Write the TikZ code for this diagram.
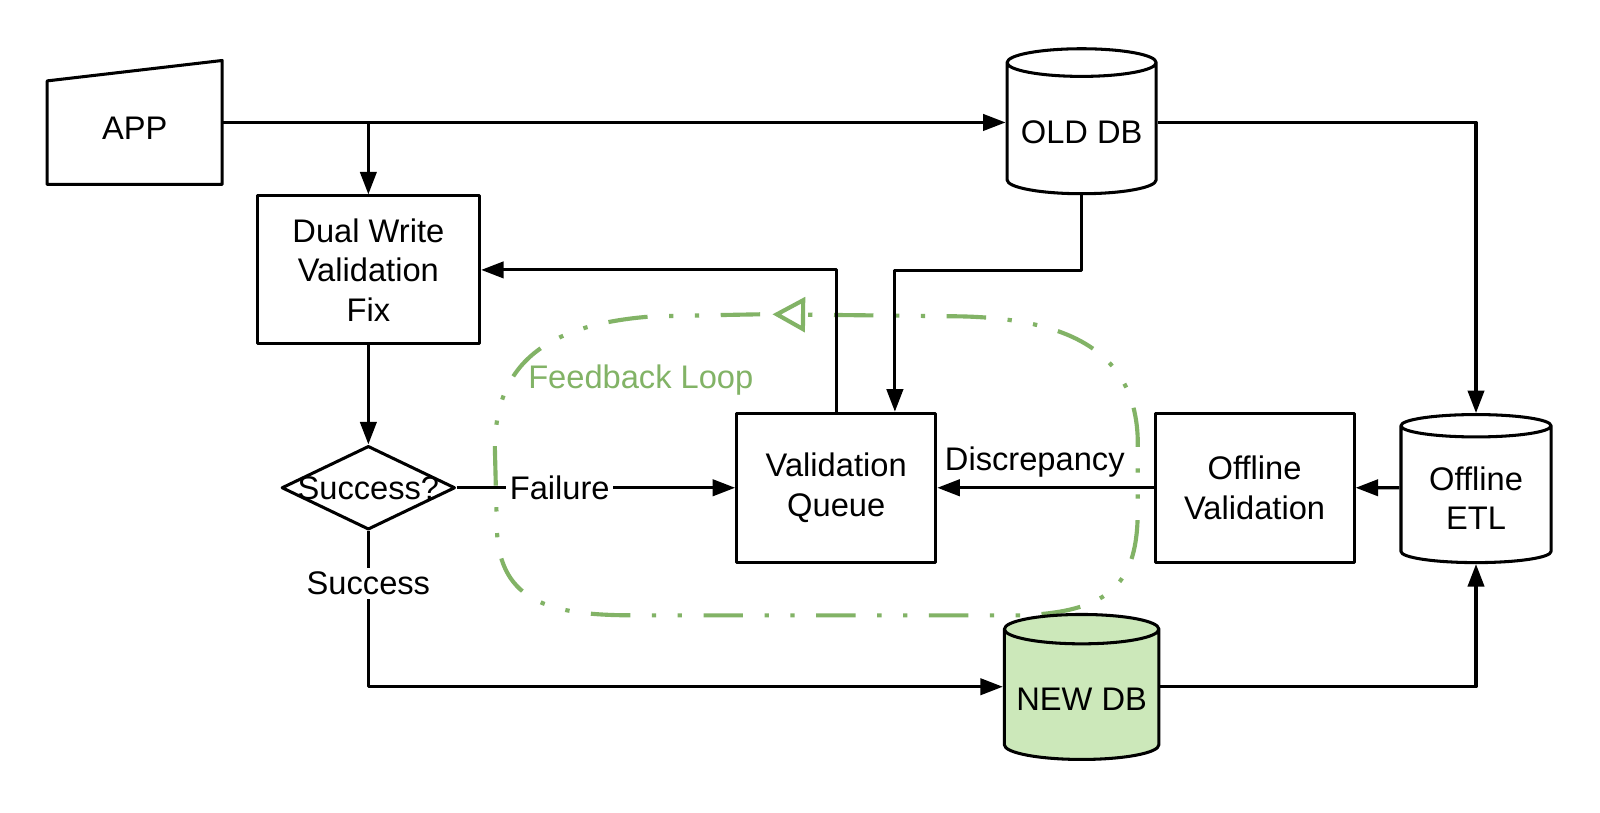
\documentclass[tikz,border=0pt]{standalone}
\usepackage{fontspec}
\setmainfont{Liberation Sans}
\usetikzlibrary{shapes.geometric,arrows.meta,calc}
\definecolor{loopgreen}{RGB}{130,179,102}
\definecolor{newdbfill}{RGB}{204,232,186}
\begin{document}
\begin{tikzpicture}[x=0.01cm,y=-0.01cm,>={Triangle[length=2.2mm,width=1.6mm]},line join=round,
	font=\fontsize{9.1}{11}\selectfont,
	box/.style={draw,line width=0.85pt,fill=white,align=center,minimum width=1.95cm,minimum height=1.46cm},
	db/.style={cylinder,shape border rotate=90,aspect=0.19,draw,line width=0.85pt,align=center,
		minimum width=1.46cm,minimum height=1.42cm,fill=white},
	link/.style={->,line width=0.85pt},
	lbl/.style={fill=white,inner sep=1pt}]
	\fill[white] (0,0) rectangle (1568,796);
	\useasboundingbox (0,0) rectangle (1568,796);
	% feedback loop
	\draw[loopgreen,line width=1.15pt,dash pattern=on 11pt off 6pt on 1.2pt off 6pt on 1.2pt off 6pt,
		-{Triangle[open,length=3.2mm,width=3.4mm]}]
		(745,308) -- (640,310)
		.. controls (530,318) and (485,360) .. (485,440)
		-- (487,520)
		.. controls (490,590) and (540,603) .. (620,603)
		-- (1000,603)
		.. controls (1090,600) and (1115,570) .. (1115,500)
		-- (1115,430)
		.. controls (1112,340) and (1040,312) .. (940,310)
		-- (757,308);
	\node[text=loopgreen] (fbl) at (628,372) {Feedback Loop};
	% nodes
	\node (app) at (132,126) [minimum width=1.7cm,minimum height=1.08cm] {APP};
	\draw[line width=0.85pt] (app.south west) -- ($(app.north west)+(0,8)$)
		-- ($(app.north east)+(0,-12)$) -- (app.south east) -- cycle;
	\node[box,minimum width=2.18cm,minimum height=1.45cm] (dual) at (361,264.5) {Dual Write\\Validation\\Fix};
	\node[db] (olddb) at (1060,130) {OLD DB};
	\node[db,fill=newdbfill] (newdb) at (1060,685) {NEW DB};
	\node[db,minimum width=1.47cm,minimum height=1.45cm] (etl) at (1446.5,488) {Offline\\ETL};
	\node[box] (vq) at (819.5,478) {Validation\\Queue};
	\node[box] (offval) at (1229.5,478) {Offline\\Validation};
	\node[diamond,draw,line width=0.85pt,fill=white,inner sep=0pt,minimum width=1.7cm,minimum height=0.82cm] (dec) at (361,478) {};
	\node (dectext) at (dec) {Success?};
	% connectors
	\coordinate (appout) at ([yshift=0.06cm]app.east);
	\coordinate (split) at (361,120);
	\coordinate (oldturn) at (877,265);
	\draw[link] (appout) -- (appout -| olddb.west);
	\draw[link] (split) -- (dual.north);
	\draw[link] ([yshift=0.1cm]olddb.east) -| (etl.north);
	\draw[link] (olddb.south) |- (oldturn) -- (oldturn |- vq.north);
	\draw[link] (vq.north) |- (dual.east);
	\draw[link] (dual.south) -- (dec.north);
	\draw[link] (dec.east) -- node[lbl,pos=0.37]{Failure} (vq.west);
	\draw[link] (dec.south) |- node[lbl,pos=0.168]{Success} ([yshift=0.12cm]newdb.west);
	\draw[link] ([yshift=0.12cm]newdb.east) -| (etl.south);
	\draw[link] ([yshift=0.1cm]etl.west) -- (offval.east);
	\draw[link] (offval.west) -- node[above=-0.03cm,pos=0.549]{Discrepancy} (vq.east);
\end{tikzpicture}
\end{document}
